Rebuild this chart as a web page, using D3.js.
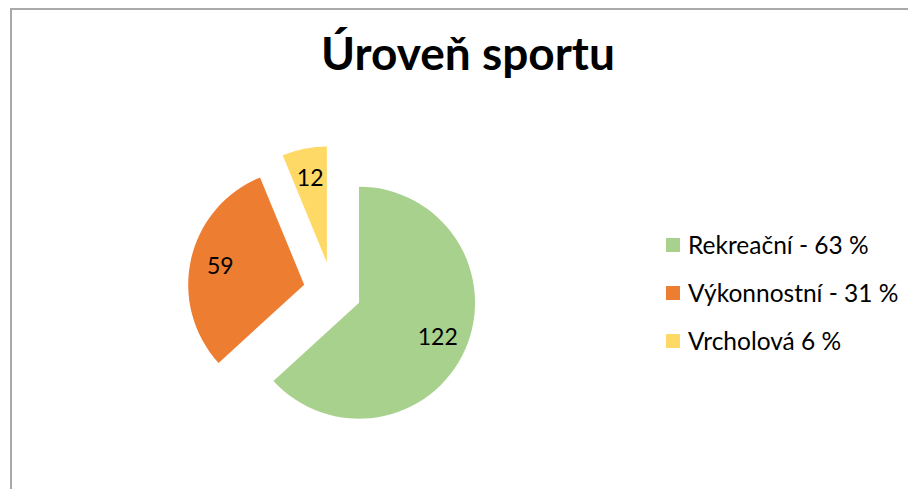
<!DOCTYPE html>
<html>
<head>
<meta charset="utf-8">
<script src="https://cdn.jsdelivr.net/npm/d3@7"></script>
<style>
  html, body { margin: 0; padding: 0; background: #fff; }
  svg { display: block; font-family: Lato, "Open Sans", sans-serif; }
</style>
</head>
<body>
<script>
// chart data
var categories = ['Rekreační - 63 %', 'Výkonnostní - 31 %', 'Vrcholová 6 %'];
var counts     = [122, 59, 12];
var colors     = ['#A9D18E', '#ED7D31', '#FFD966'];
var title      = 'Úroveň sportu';

const WIDTH  = 908;
const HEIGHT = 489;

const CENTER_X = 332.5;
const CENTER_Y = 291;
const RADIUS   = 116;
const EXPLODE  = 29;
const LABEL_RADIUS = 86;

var svg = d3.select('body').append('svg')
  .attr('width', WIDTH)
  .attr('height', HEIGHT);

// chart area frame (cut off at right and bottom)
svg.append('rect')
  .attr('x', 11)
  .attr('y', 9)
  .attr('width', WIDTH + 20)
  .attr('height', HEIGHT + 20)
  .attr('fill', 'none')
  .attr('stroke', '#a9a9a9')
  .attr('stroke-width', 2);

// title
svg.append('text')
  .attr('x', 468)
  .attr('y', 70)
  .attr('text-anchor', 'middle')
  .attr('font-size', 46)
  .attr('font-weight', 'bold')
  .attr('fill', '#000')
  .text(title);

var data = categories.map(function (c, i) {
  return { name: c, value: counts[i], color: colors[i] };
});

var pie = d3.pie()
  .sort(null)
  .value(function (d) { return d.value; });

var arc = d3.arc()
  .innerRadius(0)
  .outerRadius(RADIUS);

var labelArc = d3.arc()
  .innerRadius(LABEL_RADIUS)
  .outerRadius(LABEL_RADIUS);

var pieG = svg.append('g')
  .attr('transform', 'translate(' + CENTER_X + ',' + CENTER_Y + ')');

// every slice is pulled out along its mid angle
function explodeOffset(d) {
  var mid = (d.startAngle + d.endAngle) / 2;
  return [Math.sin(mid) * EXPLODE, -Math.cos(mid) * EXPLODE];
}

var slices = pieG.selectAll('g.slice')
  .data(pie(data))
  .enter().append('g')
    .attr('class', 'slice')
    .attr('transform', function (d) {
      var o = explodeOffset(d);
      return 'translate(' + o[0] + ',' + o[1] + ')';
    });

slices.append('path')
  .attr('d', arc)
  .attr('fill', function (d) { return d.data.color; });

slices.append('text')
  .attr('transform', function (d) {
    var c = labelArc.centroid(d);
    return 'translate(' + c[0] + ',' + c[1] + ')';
  })
  .attr('text-anchor', 'middle')
  .attr('dy', '0.35em')
  .attr('font-size', 23)
  .attr('fill', '#000')
  .text(function (d) { return d.value; });

// legend
var legend = svg.append('g')
  .attr('transform', 'translate(666,245)');

var rows = legend.selectAll('g.row')
  .data(data)
  .enter().append('g')
    .attr('class', 'row')
    .attr('transform', function (d, i) { return 'translate(0,' + (i * 48) + ')'; });

rows.append('rect')
  .attr('x', 0)
  .attr('y', -7)
  .attr('width', 14)
  .attr('height', 14)
  .attr('fill', function (d) { return d.color; });

rows.append('text')
  .attr('x', 22)
  .attr('y', 0)
  .attr('dy', '0.35em')
  .attr('font-size', 24.5)
  .attr('fill', '#000')
  .text(function (d) { return d.name; });
</script>
</body>
</html>
